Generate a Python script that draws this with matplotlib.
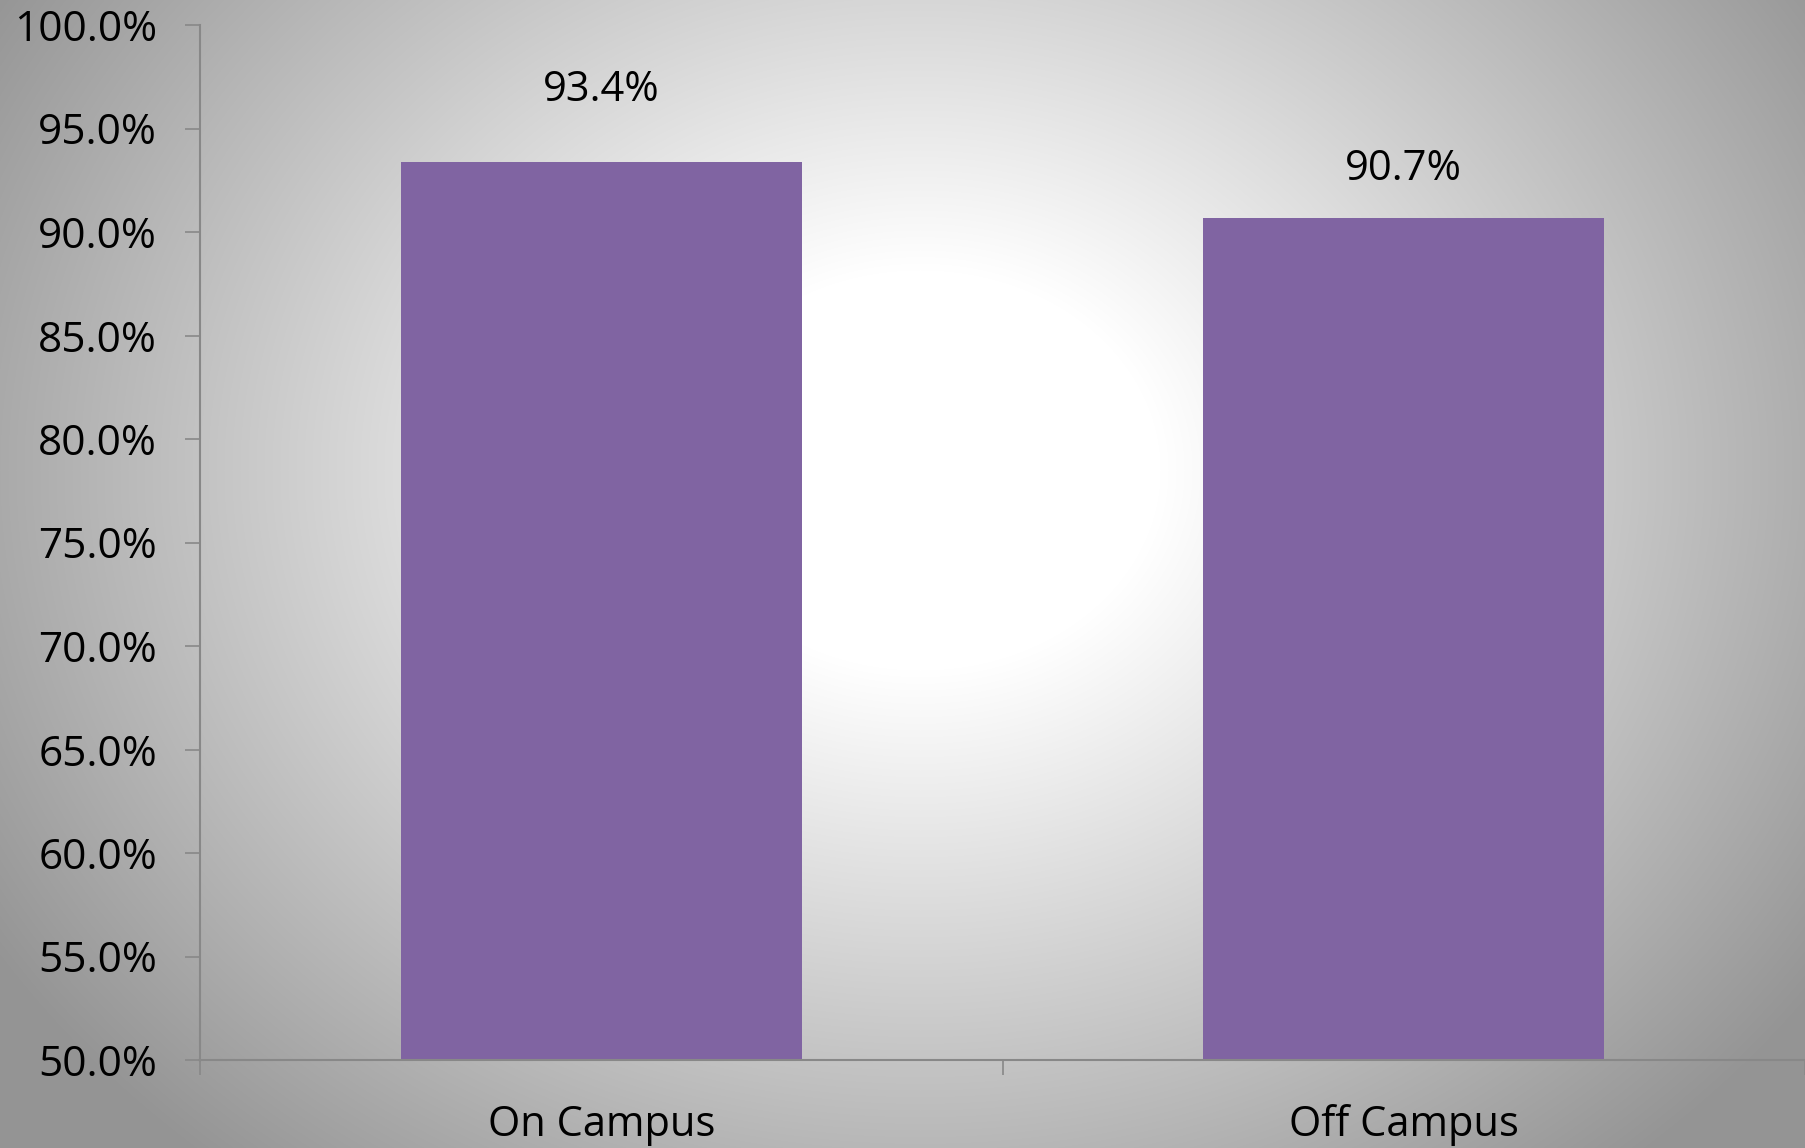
import numpy as np
import matplotlib
matplotlib.use("Agg")
import matplotlib.pyplot as plt

categories = ["On Campus", "Off Campus"]
values = [93.4, 90.7]
yticks = [50, 55, 60, 65, 70, 75, 80, 85, 90, 95, 100]

plt.rcParams['font.family'] = ['Open Sans', 'DejaVu Sans']

W, H = 1805, 1148
fig = plt.figure(figsize=(W / 100, H / 100), dpi=100)

# radial gradient background
bg = fig.add_axes([0, 0, 1, 1], zorder=0)
yy, xx = np.mgrid[0:H, 0:W]
cx, cy = 920, 470
d = np.sqrt((xx - cx) ** 2 + (1.2 * (yy - cy)) ** 2)
g = 255 - 0.125 * np.clip(d - 240, 0, None)
g = np.clip(g, 148, 255) / 255.0
bg.imshow(np.dstack([g, g, g]), aspect='auto', extent=[0, 1, 0, 1], origin='upper')
bg.axis('off')

ax = fig.add_axes([200 / W, (H - 1060) / H, 1 - 200 / W, (1060 - 25) / H], zorder=1)
ax.patch.set_alpha(0)

x = np.arange(len(categories))
ax.bar(x, values, width=0.5, color='#8064A2', bottom=0, zorder=2)
label_offsets = [44, 27]
for xi, v, off in zip(x, values, label_offsets):
    ax.annotate(f"{v:.1f}%", (xi, v), xytext=(0, off), textcoords='offset points',
                ha='center', va='baseline', fontsize=30, color='black')

ax.set_xlim(-0.5, len(categories) - 0.5)
ax.set_ylim(50, 100)
ax.set_yticks(yticks)
ax.set_yticklabels([f"{t:.1f}%" for t in yticks], fontsize=30.5)
ax.set_xticks(np.arange(len(categories) + 1) - 0.5)
ax.set_xticklabels([])
ax.set_xticks(x, minor=True)
ax.set_xticklabels(categories, minor=True, fontsize=30)
ax.tick_params(axis='x', which='minor', length=0, pad=32)
ax.tick_params(axis='x', which='major', length=11, width=1.2, color='#888888', direction='out')
ax.tick_params(axis='y', length=11, width=1.2, color='#888888', pad=20)

for s in ['top', 'right']:
    ax.spines[s].set_visible(False)
for s in ['left', 'bottom']:
    ax.spines[s].set_color('#888888')
    ax.spines[s].set_linewidth(1.5)

fig.savefig('out.png', dpi=100)
